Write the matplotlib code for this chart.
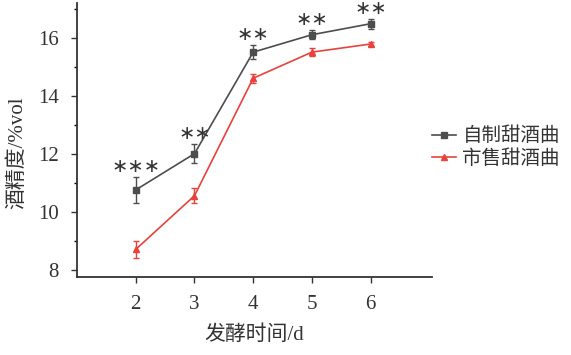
import matplotlib
matplotlib.use("Agg")
import matplotlib.pyplot as plt
from matplotlib.ticker import MultipleLocator
from matplotlib.lines import Line2D

days = [2, 3, 4, 5, 6]
homemade = [10.75, 12.0, 15.5, 16.1, 16.48]
homemade_err = [0.45, 0.33, 0.25, 0.15, 0.18]
commercial = [8.7, 10.55, 14.6, 15.5, 15.78]
commercial_err = [0.3, 0.25, 0.15, 0.15, 0.08]
sig = ["∗∗∗", "∗∗", "∗∗", "∗∗", "∗∗"]
labels = ["自制甜酒曲", "市售甜酒曲"]

plt.rcParams['font.family'] = ['Liberation Serif', 'Noto Sans CJK SC']

fig = plt.figure(figsize=(5.71, 3.55), dpi=100)
ax = fig.add_axes([0.135, 0.22, 0.622, 0.772])

c1 = '#4d4d4d'
c2 = '#e8423c'
ax.errorbar(days, homemade, yerr=homemade_err, color=c1, marker='s', ms=4,
            lw=1.2, capsize=2.5, elinewidth=1)
ax.errorbar(days, commercial, yerr=commercial_err, color=c2, marker='^', ms=4.5,
            lw=1.2, capsize=2.5, elinewidth=1)

for x, y, e, s in zip(days, homemade, homemade_err, sig):
    ax.text(x, y + e + 0.36, s, ha='center', va='center', fontsize=14,
            color='#333333', family='DejaVu Sans', clip_on=False)

ax.set_xlim(1, 7.05)
ax.set_ylim(7.75, 17.2)
ax.set_xticks(days)
ax.yaxis.set_minor_locator(MultipleLocator(1))
ax.set_yticks([8, 10, 12, 14, 16])
for s in ['top', 'right']:
    ax.spines[s].set_visible(False)
for s in ['left', 'bottom']:
    ax.spines[s].set_linewidth(1.3)
    ax.spines[s].set_color('#333333')
ax.tick_params(axis='both', labelsize=15, colors='#333333', length=4, width=1, pad=9)
ax.tick_params(axis='y', which='minor', length=2.5, width=1)
ax.set_xlabel('发酵时间/d', fontsize=15, color='#333333')
ax.set_ylabel('酒精度/%vol', fontsize=15, color='#333333')
ax.xaxis.set_label_coords(0.5, -0.175)
ax.yaxis.set_label_coords(-0.141, 0.453)

handles = [Line2D([], [], color=c1, marker='s', ms=4, lw=1.2),
           Line2D([], [], color=c2, marker='^', ms=4.5, lw=1.2)]
leg = fig.legend(handles, labels, loc='center left', bbox_to_anchor=(0.757, 0.585),
                 frameon=False, fontsize=14, handlelength=1.2, handletextpad=0.35,
                 labelspacing=0.2, borderpad=0, borderaxespad=0)
for t in leg.get_texts():
    t.set_color('#333333')

fig.savefig('out.png', dpi=100)
